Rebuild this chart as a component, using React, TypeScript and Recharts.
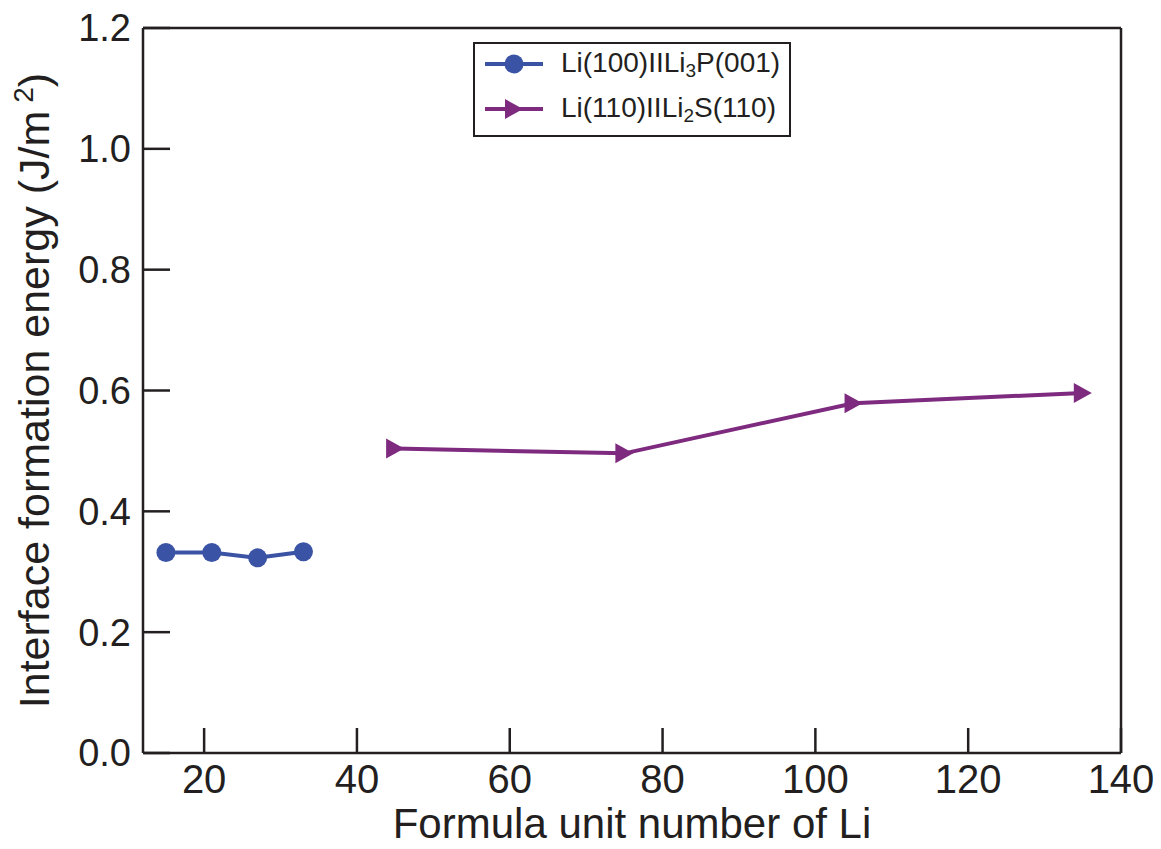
import React from 'react';
import { LineChart, Line, XAxis, YAxis, Legend, ReferenceLine } from 'recharts';

const liPX = [15, 21, 27, 33];
const liPY = [0.332, 0.332, 0.323, 0.333];
const liSX = [45, 75, 105, 135];
const liSY = [0.504, 0.496, 0.579, 0.596];
const xTicks = [20, 40, 60, 80, 100, 120, 140];
const yTicks = [0, 0.2, 0.4, 0.6, 0.8, 1.0, 1.2];

const liPData = liPX.map((x, i) => ({ x, y: liPY[i] }));
const liSData = liSX.map((x, i) => ({ x, y: liSY[i] }));

const BLUE = '#3A53A4';
const PURPLE = '#7D2A7F';
const INK = '#231F20';
const FONT = '"Liberation Sans", Arial, Helvetica, sans-serif';

const Triangle = (props: any) => {
  const { cx, cy } = props;
  if (cx == null || cy == null) return null;
  return <polygon points={`${cx - 9},${cy - 10} ${cx + 9},${cy} ${cx - 9},${cy + 10}`} fill={PURPLE} />;
};

const LegendBox = () => (
  <div
    style={{
      border: `2px solid ${INK}`,
      width: 318,
      height: 95,
      boxSizing: 'border-box',
      background: '#fff',
      fontFamily: FONT,
      fontSize: 28,
      color: INK,
      paddingTop: 0,
    }}
  >
    <div style={{ display: 'flex', alignItems: 'center', height: 44, marginTop: -2 }}>
      <svg width={80} height={30} style={{ marginLeft: 8 }}>
        <line x1={2} y1={15} x2={60} y2={15} stroke={BLUE} strokeWidth={4} />
        <circle cx={31} cy={15} r={9.5} fill={BLUE} />
      </svg>
      <span style={{ marginLeft: -2 }}>
        Li(100)IILi<sub style={{ fontSize: 19, verticalAlign: -5 }}>3</sub>P(001)
      </span>
    </div>
    <div style={{ display: 'flex', alignItems: 'center', height: 46 }}>
      <svg width={80} height={30} style={{ marginLeft: 8 }}>
        <line x1={2} y1={15} x2={60} y2={15} stroke={PURPLE} strokeWidth={4} />
        <polygon points="22,5 40,15 22,25" fill={PURPLE} />
      </svg>
      <span style={{ marginLeft: -2 }}>
        Li(110)IILi<sub style={{ fontSize: 19, verticalAlign: -5 }}>2</sub>S(110)
      </span>
    </div>
  </div>
);

const XTitle = (props: any) => {
  const { viewBox } = props;
  const { x, y, width } = viewBox;
  return (
    <text x={x + width / 2} y={y + 85} textAnchor="middle" fontSize={42} fill={INK} fontFamily={FONT}>
      Formula unit number of Li
    </text>
  );
};

const YTitle = (props: any) => {
  const { viewBox } = props;
  const { y, height } = viewBox;
  const cx = 49;
  const cy = y + height / 2;
  return (
    <text
      x={cx}
      y={cy}
      transform={`rotate(-90, ${cx}, ${cy})`}
      textAnchor="middle"
      fontSize={43}
      fill={INK}
      fontFamily={FONT}
    >
      Interface formation energy (J/m
      <tspan dx={8} dy={-16} fontSize={28}>2</tspan>
      <tspan dy={16}>)</tspan>
    </text>
  );
};

export default function App() {
  return (
    <div style={{ position: 'absolute', left: 0, top: 0, width: 1161, height: 849, background: '#fff' }}>
      <LineChart width={1161} height={849} margin={{ top: 28, right: 0, bottom: 0, left: 0 }}>
        <XAxis
          dataKey="x"
          type="number"
          domain={[12, 140]}
          ticks={xTicks}
          allowDataOverflow
          height={96}
          tickSize={-25}
          tickMargin={37}
          stroke={INK}
          strokeWidth={2.5}
          tick={{ fontSize: 40, fill: INK, fontFamily: FONT }}
          label={<XTitle />}
        />
        <YAxis
          yAxisId="left"
          type="number"
          domain={[0, 1.2]}
          ticks={yTicks}
          width={143}
          tickSize={-27}
          tickMargin={39}
          stroke={INK}
          strokeWidth={2.5}
          tickFormatter={(v: number) => v.toFixed(1)}
          tick={{ fontSize: 38, fill: INK, fontFamily: FONT }}
          label={<YTitle />}
        />
        <YAxis
          yAxisId="right"
          orientation="right"
          type="number"
          domain={[0, 1.2]}
          ticks={yTicks}
          width={40}
          tickSize={-27}
          stroke={INK}
          strokeWidth={2.5}
          tick={false}
        />
        <ReferenceLine yAxisId="left" y={1.2} stroke={INK} strokeWidth={2.5} />
        <Legend
          layout="horizontal"
          verticalAlign="middle"
          align="center"
          content={<LegendBox />}
          wrapperStyle={{ left: 473, top: 42, width: 318, height: 95 }}
        />
        <Line
          yAxisId="left"
          data={liPData}
          dataKey="y"
          stroke={BLUE}
          strokeWidth={4}
          dot={{ r: 9.5, fill: BLUE, stroke: 'none' }}
          isAnimationActive={false}
        />
        <Line
          yAxisId="left"
          data={liSData}
          dataKey="y"
          stroke={PURPLE}
          strokeWidth={4}
          dot={<Triangle />}
          isAnimationActive={false}
        />
      </LineChart>
    </div>
  );
}
